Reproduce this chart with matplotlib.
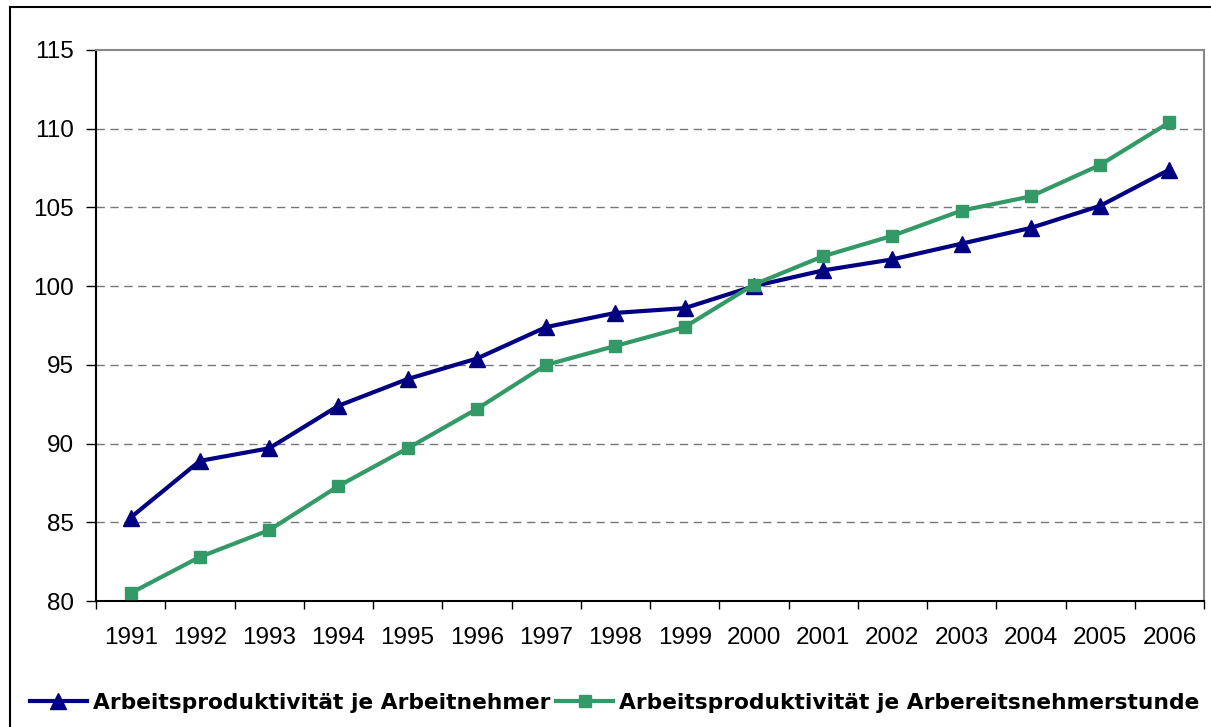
import numpy as np
import matplotlib.pyplot as plt
from matplotlib.lines import Line2D

years = [str(y) for y in range(1991, 2007)]
je_arbeitnehmer = [85.3, 88.9, 89.7, 92.4, 94.1, 95.4, 97.4, 98.3, 98.6, 100.0,
                   101.0, 101.7, 102.7, 103.7, 105.1, 107.4]
je_stunde = [80.5, 82.8, 84.5, 87.3, 89.7, 92.2, 95.0, 96.2, 97.4, 100.1,
             101.9, 103.2, 104.8, 105.7, 107.7, 110.4]

plt.rcParams['font.family'] = ['Liberation Sans', 'DejaVu Sans']

fig = plt.figure(figsize=(12.11, 7.27), dpi=100)
ax = fig.add_axes([96 / 1211, 1 - 601 / 727, 1108 / 1211, 551 / 727])

x = np.arange(len(years))
ax.plot(x, je_arbeitnehmer, color='#000080', lw=3, marker='^', ms=12,
        label='Arbeitsproduktivität je Arbeitnehmer', zorder=3)
ax.plot(x, je_stunde, color='#339966', lw=3, marker='s', ms=9,
        label='Arbeitsproduktivität je Arbereitsnehmerstunde', zorder=3)

ax.set_xlim(-0.5, len(years) - 0.5)
ax.set_ylim(80, 115)
ax.set_yticks(range(80, 116, 5))
ax.set_xticks(x)
ax.set_xticklabels(years)
ax.set_xticks(np.arange(-0.5, len(years), 1), minor=True)
ax.tick_params(axis='x', which='major', length=0, pad=19, labelsize=17.5)
ax.tick_params(axis='x', which='minor', length=6, width=1, direction='out')
ax.tick_params(axis='y', length=7, width=1, direction='out', pad=9, labelsize=17.5)

for v in range(85, 115, 5):
    ax.axhline(v, color='#777777', lw=1, ls=(0, (6, 4)), zorder=1)

ax.spines['left'].set_color('black')
ax.spines['bottom'].set_color('black')
ax.spines['top'].set_color('#888888')
ax.spines['right'].set_color('#888888')
for s in ax.spines.values():
    s.set_linewidth(1.5)

fig.legend(loc='center left', bbox_to_anchor=(30 / 1211, 1 - 703 / 727), ncol=2,
           frameon=False, prop={'family': 'DejaVu Sans', 'weight': 'bold', 'size': 15.7},
           handlelength=2.6, handletextpad=0.28, columnspacing=0.28,
           borderaxespad=0, borderpad=0)

# outer chart frame
fig.add_artist(Line2D([10 / 1211, 10 / 1211], [0, 1 - 7 / 727], color='black', lw=1.5))
fig.add_artist(Line2D([10 / 1211, 1], [1 - 7 / 727, 1 - 7 / 727], color='black', lw=1.5))

fig.savefig('out.png', dpi=100)
